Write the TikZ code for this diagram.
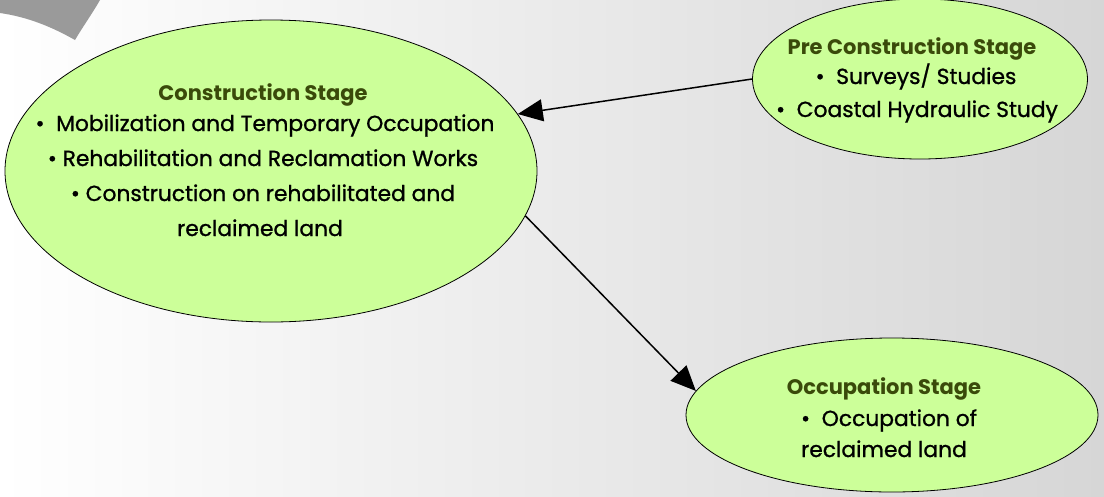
\documentclass[tikz,border=0pt]{standalone}
\usepackage{fontspec}
\setmainfont{Poppins}[FakeBold=1.0]
\newfontfamily\titlefont{Poppins Bold}
\usetikzlibrary{arrows.meta,shapes.geometric}
\definecolor{stagefill}{HTML}{CCFF99}
\definecolor{titlecol}{HTML}{3A4A0A}
\definecolor{bgright}{HTML}{D6D6D6}
\definecolor{swoosh}{HTML}{9A9A9A}
\tikzset{
  stage/.style={ellipse, draw=black, line width=0.8pt, fill=stagefill, inner sep=0pt},
  txt/.style={font=\fontsize{21.8}{24}\selectfont, text=black, inner sep=0pt, text height=15pt, text depth=5pt},
  ttl/.style={font=\titlefont\fontsize{21}{24}\selectfont, text=titlecol, inner sep=0pt, text height=15pt, text depth=5pt},
  conn/.style={line width=1.5pt, -{Triangle[length=25pt,width=22pt]}}
}
\begin{document}
\begin{tikzpicture}[x=1pt,y=-1pt]
\useasboundingbox (0,0) rectangle (1104,496);
\shade[left color=white, right color=bgright] (0,0) rectangle (1104,496);
\fill[swoosh] (0,0) -- (100,0) .. controls (92,14) and (82,28) .. (75,40) .. controls (52,27) and (28,17) .. (0,13) -- cycle;

\node[stage, minimum width=532pt, minimum height=302pt] (c) at (271,171) {};
\node[stage, minimum width=335pt, minimum height=160pt] (p) at (920,79) {};
\node[stage, minimum width=412pt, minimum height=154pt] (o) at (892,415) {};

\node[ttl] (ct) at (263,95) {Construction Stage};
\node[txt] (c1) at (265,126) {•\ \ Mobilization and Temporary Occupation};
\node[txt] (c2) at (263,161) {• Rehabilitation and Reclamation Works};
\node[txt] (c3) at (263,196) {• Construction on rehabilitated and};
\node[txt] (c4) at (260,231) {reclaimed land};

\node[ttl] (pt) at (912,49) {Pre Construction Stage};
\node[txt] (p1) at (916,79) {•\ \ Surveys/ Studies};
\node[txt] (p2) at (917,112) {•\ \ Coastal Hydraulic Study};

\node[ttl] (ot) at (884,389) {Occupation Stage};
\node[txt] (o1) at (889,421) {•\ \ Occupation of};
\node[txt] (o2) at (884,452) {reclaimed land};

\draw[conn] (p.west) -- (c.13);
\draw[conn] (c.-10.6) -- (o.173.5);
\end{tikzpicture}
\end{document}
